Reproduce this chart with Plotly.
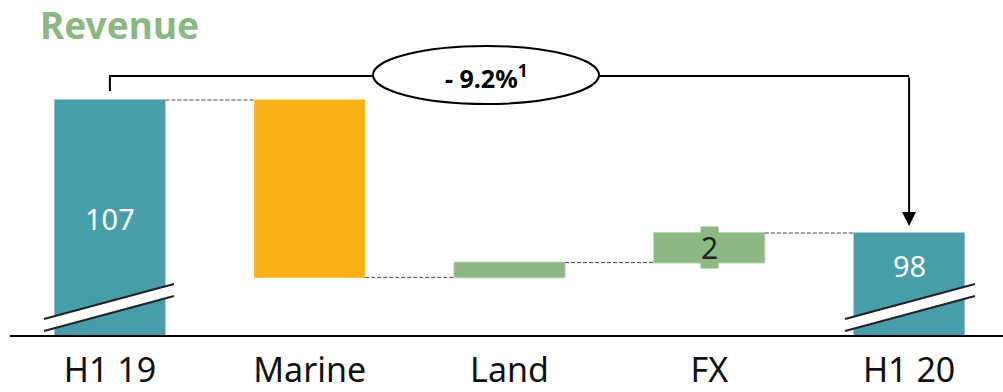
import plotly.graph_objects as go

# data
categories = ["H1 19", "Marine", "Land", "FX", "H1 20"]
values = [107, -12, 1, 2, 98]
measures = ["absolute", "relative", "relative", "relative", "total"]
change_label = "- 9.2%<sup>1</sup>"

TEAL = "#489DAA"
ORANGE = "#FAB118"
GREEN = "#8CB983"
FONT = "Noto Sans"

# layout geometry (pixels)
W, H = 1003, 392
L, R, T, B = 10, 0, 40, 57
x_range = [-0.5, 4.47]
y_lo = 91.1
ppu = 14.78  # pixels per unit
y_range = [y_lo, y_lo + (H - T - B) / ppu]
ppx = (W - L - R) / (x_range[1] - x_range[0])


def px_x(p):
    return (p - L) / ppx + x_range[0]


def px_y(p):
    return y_lo + ((H - B) - p) / ppu


fig = go.Figure()

fig.add_trace(
    go.Waterfall(
        x=list(range(len(categories))),
        y=[values[0], values[1], values[2], values[3], 0],
        measure=measures,
        width=0.556,
        increasing=dict(marker=dict(color=GREEN, line=dict(color="#B5D3AE", width=1))),
        decreasing=dict(marker=dict(color=ORANGE)),
        totals=dict(marker=dict(color=TEAL)),
        connector=dict(mode="between", line=dict(color="#444444", width=1, dash="4px,2px")),
        hoverinfo="skip",
        textinfo="none",
    )
)

# value labels
fig.add_annotation(x=0, y=values[0] - 8, text=str(values[0]), showarrow=False,
                   font=dict(family=FONT, size=29, color="white"))
fig.add_annotation(x=4, y=values[4] - 2.2, text=str(values[4]), showarrow=False,
                   font=dict(family=FONT, size=29, color="white"))
fx_mid = values[0] + values[1] + values[2] + values[3] / 2
fig.add_annotation(x=3, y=fx_mid, text=str(values[3]), showarrow=False,
                   bgcolor=GREEN, borderpad=0,
                   font=dict(family=FONT, size=30, color="#222222"))

# broken axis marks
for xl, xr in [(44, 174), (845, 975)]:
    x0, x1 = px_x(xl), px_x(xr)
    fig.add_shape(type="path",
                  path=f"M {x0},{px_y(319)} L {x1},{px_y(284)} L {x1},{px_y(296)} L {x0},{px_y(331)} Z",
                  fillcolor="white", line=dict(width=0), layer="above")
    fig.add_shape(type="line", x0=x0, y0=px_y(319), x1=x1, y1=px_y(284),
                  line=dict(color="#222222", width=2), layer="above")
    fig.add_shape(type="line", x0=x0, y0=px_y(331), x1=x1, y1=px_y(296),
                  line=dict(color="#222222", width=2), layer="above")

# bracket with change
top = px_y(76)
fig.add_shape(type="path",
              path=f"M 0,{px_y(91)} L 0,{top} L 4,{top}",
              line=dict(color="black", width=2), layer="above")
fig.add_annotation(x=4, y=px_y(226), ax=4, ay=top, axref="x", ayref="y",
                   showarrow=True, arrowhead=2, arrowsize=1.4, arrowwidth=2,
                   arrowcolor="black", text="")
fig.add_shape(type="circle", x0=px_x(373), x1=px_x(599), y0=px_y(104), y1=px_y(46),
              fillcolor="white", line=dict(color="black", width=2), layer="above")
fig.add_annotation(x=px_x(486), y=px_y(76), text=change_label, showarrow=False,
                   font=dict(family=FONT, size=25, color="black", weight="bold"))

# title
fig.add_annotation(xref="paper", yref="paper", x=(38 - L) / (W - L - R), y=1 + (T - 25) / (H - T - B),
                   xanchor="left", yanchor="middle", text="<b>Revenue</b>", showarrow=False,
                   font=dict(family=FONT, size=37, color=GREEN))

fig.update_layout(
    width=W,
    height=H,
    margin=dict(l=L, r=R, t=T, b=B),
    plot_bgcolor="white",
    paper_bgcolor="white",
    showlegend=False,
)

fig.update_xaxes(
    range=x_range,
    tickmode="array",
    tickvals=list(range(len(categories))),
    ticktext=categories,
    tickfont=dict(family=FONT, size=34, color="#111111"),
    ticklabelstandoff=4,
    automargin=False,
    showgrid=False,
    zeroline=False,
    showline=True,
    linecolor="black",
    linewidth=1.5,
    ticks="",
)

fig.update_yaxes(
    range=y_range,
    visible=False,
    showgrid=False,
    automargin=False,
)

fig.write_html("out.html", config={"displayModeBar": False},
               post_script="document.body.style.margin='0';")
